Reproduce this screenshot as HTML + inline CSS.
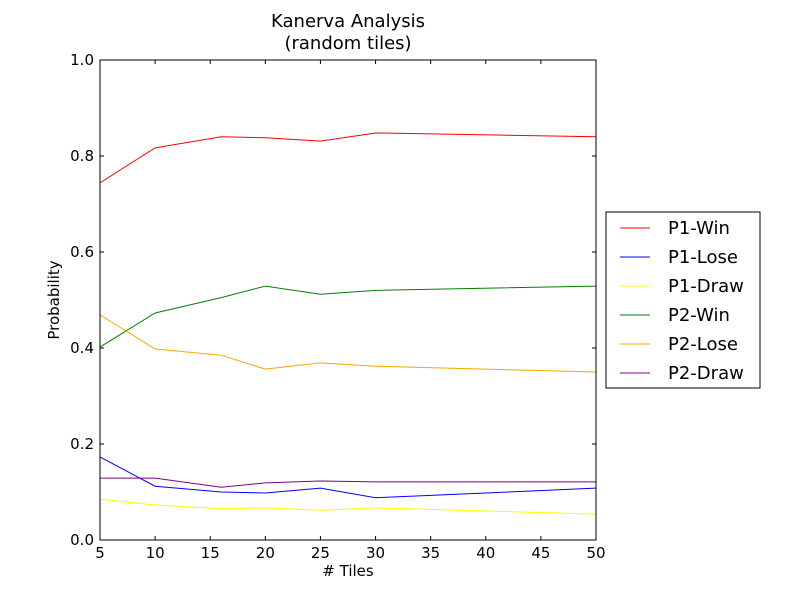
<!DOCTYPE html>
<html><head><meta charset="utf-8"><style>body{margin:0;background:#fff}svg{font-family:"DejaVu Sans","Liberation Sans",sans-serif}</style></head>
<body>
<svg id="c" width="800" height="600" viewBox="0 0 800 600"></svg>
<script>
const xs=[5,10,16,20,25,30,50];
const p1Win=[0.744,0.817,0.840,0.838,0.831,0.848,0.840];
const p1Lose=[0.173,0.112,0.100,0.098,0.108,0.088,0.108];
const p1Draw=[0.085,0.073,0.065,0.067,0.062,0.067,0.054];
const p2Win=[0.402,0.473,0.505,0.529,0.512,0.520,0.529];
const p2Lose=[0.469,0.398,0.385,0.356,0.369,0.362,0.350];
const p2Draw=[0.129,0.129,0.110,0.119,0.123,0.121,0.121];
const xTicks=[5,10,15,20,25,30,35,40,45,50];
const yTicks=[0,0.2,0.4,0.6,0.8,1.0];
const series=[["P1-Win",p1Win,"red"],["P1-Lose",p1Lose,"blue"],["P1-Draw",p1Draw,"yellow"],["P2-Win",p2Win,"green"],["P2-Lose",p2Lose,"orange"],["P2-Draw",p2Draw,"purple"]];
const L=100,R=596,T=60,B=540;
const X=v=>L+(v-5)/45*(R-L), Y=v=>B-v*(B-T);
const svg=document.getElementById('c');const NS="http://www.w3.org/2000/svg";
function mk(t,a,txt){const e=document.createElementNS(NS,t);for(const k in a)e.setAttribute(k,a[k]);if(txt!=null)e.textContent=txt;svg.appendChild(e);return e;}
series.forEach(s=>{const e=mk('polyline',{points:xs.map((x,i)=>X(x)+','+Y(s[1][i])).join(' '),fill:'none',stroke:s[2],'stroke-width':1});

});
const fr=mk('rect',{x:L,y:T,width:R-L,height:B-T,fill:'none',stroke:'#000'});

xTicks.forEach(v=>{const x=X(v);mk('line',{x1:x,x2:x,y1:B,y2:B-4,stroke:'#000'});mk('line',{x1:x,x2:x,y1:T,y2:T+4,stroke:'#000'});
const t=mk('text',{x:x,y:B+18,'text-anchor':'middle','font-size':15},String(v));});
yTicks.forEach(v=>{const y=Y(v);mk('line',{x1:L,x2:L+4,y1:y,y2:y,stroke:'#000'});mk('line',{x1:R,x2:R-4,y1:y,y2:y,stroke:'#000'});
const t=mk('text',{x:L-6,y:y+5,'text-anchor':'end','font-size':15},v.toFixed(1));});
let t=mk('text',{x:348,y:27,'text-anchor':'middle','font-size':18},'Kanerva Analysis');
t=mk('text',{x:348,y:49,'text-anchor':'middle','font-size':18},'(random tiles)');
t=mk('text',{x:348,y:576,'text-anchor':'middle','font-size':15},'# Tiles');
t=mk('text',{x:59,y:300,'text-anchor':'middle','font-size':15,transform:'rotate(-90 59 300)'},'Probability');
const lg=mk('rect',{x:606,y:212,width:154,height:176,fill:'#fff',stroke:'#000'});
series.forEach((s,i)=>{const y=228+i*29;mk('line',{x1:620,x2:650,y1:y,y2:y,stroke:s[2]});
const e=mk('text',{x:668,y:y+6,'font-size':18},s[0]);});
</script>
</body></html>
